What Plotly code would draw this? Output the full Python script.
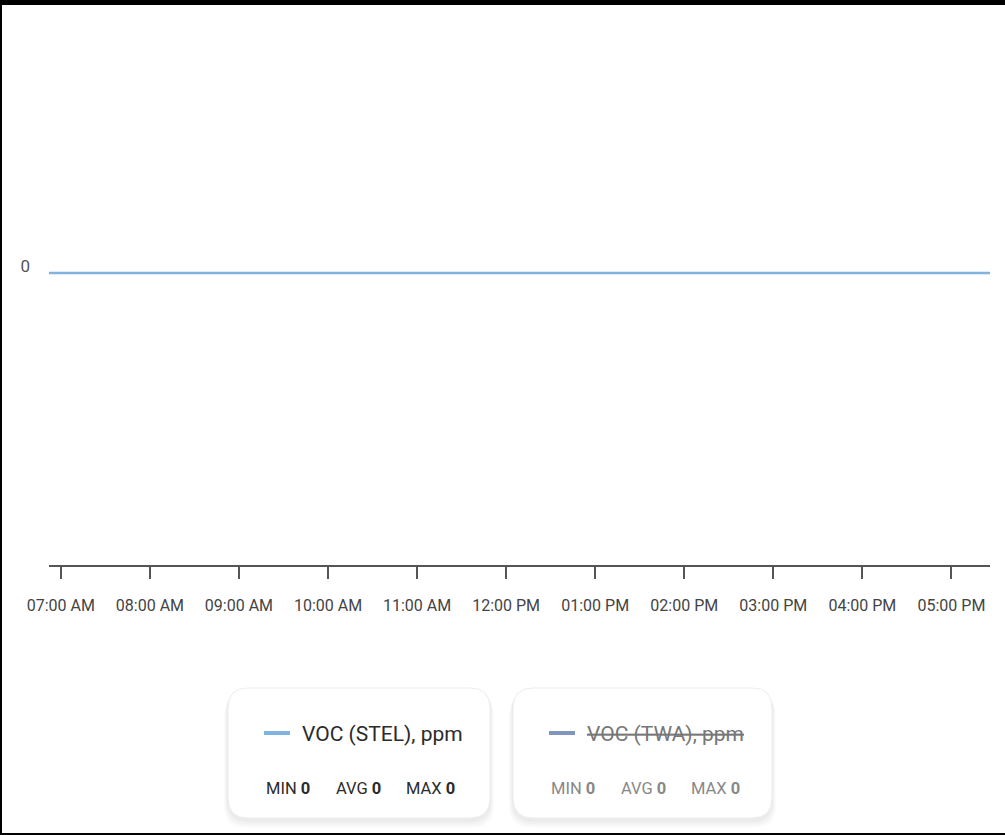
import plotly.graph_objects as go

# ---- data ----
times = ["2024-01-15 06:52", "2024-01-15 07:00", "2024-01-15 08:00", "2024-01-15 09:00",
         "2024-01-15 10:00", "2024-01-15 11:00", "2024-01-15 12:00", "2024-01-15 13:00",
         "2024-01-15 14:00", "2024-01-15 15:00", "2024-01-15 16:00", "2024-01-15 17:00",
         "2024-01-15 17:26"]
voc_stel = [0, 0, 0, 0, 0, 0, 0, 0, 0, 0, 0, 0, 0]
voc_twa = [0, 0, 0, 0, 0, 0, 0, 0, 0, 0, 0, 0, 0]
series_names = ["VOC (STEL), ppm", "VOC (TWA), ppm"]
series_visible = [True, False]
series_colors = ["#7fb3e0", "#8196bd"]
y_tick_vals = [0]
y_tick_text = ["0"]
x_range = ["2024-01-15 06:52", "2024-01-15 17:26"]

W, H = 1005, 835
def px(x):
    return x / W
def py(y):
    return 1 - y / H

FONT = "Roboto, sans-serif"

fig = go.Figure()
for vals, name, vis, col in zip([voc_stel, voc_twa], series_names, series_visible, series_colors):
    fig.add_trace(go.Scatter(x=times, y=vals, mode="lines", name=name,
                             visible=vis, line=dict(color=col, width=2.5),
                             showlegend=False, hoverinfo="skip"))

shapes = []
annotations = []

def rrect_path(x0, y0, x1, y1, r):
    def P(x, y):
        return f"{px(x):.6f},{py(y):.6f}"
    return (f"M {P(x0 + r, y0)} L {P(x1 - r, y0)} Q {P(x1, y0)} {P(x1, y0 + r)} "
            f"L {P(x1, y1 - r)} Q {P(x1, y1)} {P(x1 - r, y1)} "
            f"L {P(x0 + r, y1)} Q {P(x0, y1)} {P(x0, y1 - r)} "
            f"L {P(x0, y0 + r)} Q {P(x0, y0)} {P(x0 + r, y0)} Z")

cards = [(228, 688, 490, 818), (513, 688, 772, 818)]
for i, (x0, y0, x1, y1) in enumerate(cards):
    for k, a in enumerate([0.016, 0.018, 0.02, 0.022]):
        off = 10 - k * 2
        grow = 4 - k
        shapes.append(dict(type="path", xref="paper", yref="paper",
                           path=rrect_path(x0 - grow, y0 + off - 4, x1 + grow, y1 + off, 22),
                           fillcolor=f"rgba(0,0,0,{a})", line=dict(width=0), layer="above"))
    shapes.append(dict(type="path", xref="paper", yref="paper",
                       path=rrect_path(x0, y0, x1, y1, 20),
                       fillcolor="white", line=dict(color="#ededed", width=1), layer="above"))
    name = series_names[i]
    vis = series_visible[i]
    vals = [voc_stel, voc_twa][i]
    sx = x0 + 36
    shapes.append(dict(type="line", xref="paper", yref="paper",
                       x0=px(sx), x1=px(sx + 26), y0=py(733), y1=py(733),
                       line=dict(color=series_colors[i], width=4), layer="above"))
    label = name if vis else f"<s>{name}</s>"
    annotations.append(dict(x=px(sx + 36), y=py(734), xref="paper", yref="paper",
                            xanchor="left", yanchor="middle", showarrow=False,
                            text=label,
                            font=dict(family=FONT, size=21,
                                      color="#2b2b2b" if vis else "#777777")))
    stats = [("MIN", min(vals)), ("AVG", sum(vals) / len(vals)), ("MAX", max(vals))]
    offs = [0, 70, 140]
    for (lab, v), o in zip(stats, offs):
        annotations.append(dict(x=px(sx + o), y=py(788), xref="paper", yref="paper",
                                xanchor="left", yanchor="middle", showarrow=False,
                                text=f"{lab} <b>{v:g}</b>",
                                font=dict(family=FONT, size=16.5,
                                          color="#2b2b2b" if vis else "#888888")))

# frame borders
shapes.append(dict(type="rect", xref="paper", yref="paper", x0=0, x1=1,
                   y0=py(5), y1=1, fillcolor="black", line=dict(width=0), layer="above"))
shapes.append(dict(type="rect", xref="paper", yref="paper", x0=0, x1=px(2),
                   y0=0, y1=1, fillcolor="black", line=dict(width=0), layer="above"))
shapes.append(dict(type="rect", xref="paper", yref="paper", x0=0, x1=1,
                   y0=0, y1=py(833), fillcolor="black", line=dict(width=0), layer="above"))

fig.update_layout(
    template="none",
    width=W, height=H,
    margin=dict(l=0, r=0, t=0, b=0, pad=0, autoexpand=False),
    paper_bgcolor="white", plot_bgcolor="white",
    shapes=shapes, annotations=annotations,
    xaxis=dict(domain=[px(49), px(990)], range=x_range, type="date", automargin=False,
               tick0="2024-01-15 07:00", dtick=3600000, tickformat="%I:%M %p",
               showgrid=False, zeroline=False, showline=True, linecolor="#555555",
               linewidth=1.5, ticks="outside", ticklen=12, tickwidth=1.5, tickcolor="#555555",
               ticklabelstandoff=13,
               tickfont=dict(family=FONT, size=16, color="#444444"), anchor="y"),
    yaxis=dict(domain=[py(565), py(20)], range=[-1, 0.8664], automargin=False,
               tickvals=y_tick_vals, ticktext=y_tick_text,
               showgrid=False, zeroline=False, showline=False, ticks="",
               ticklabelshift=-7, ticklabelstandoff=18,
               tickfont=dict(family=FONT, size=17, color="#555555")),
    showlegend=False,
)

fig.write_html("out.html", config={"displayModeBar": False},
               post_script="document.body.style.margin='0';document.body.style.overflow='hidden';")
